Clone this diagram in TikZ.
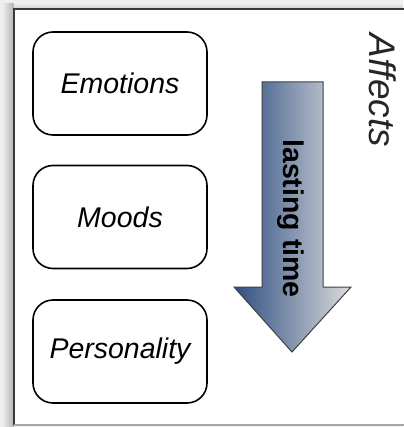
\documentclass[tikz,border=0pt]{standalone}
\usepackage{fontspec}
\setmainfont{Liberation Sans}
\definecolor{paper}{HTML}{EFEFEF}
\definecolor{frameline}{HTML}{3A3A3A}
\definecolor{arrowdark}{HTML}{2E4F82}
\definecolor{arrowlight}{HTML}{DCDCDC}
\begin{document}
\begin{tikzpicture}[x=1pt,y=-1pt,
  affect/.style={draw=black, line width=1.6pt, rounded corners=20pt,
    minimum width=174pt, minimum height=103pt, inner sep=0pt,
    font=\fontsize{28.5}{32}\selectfont\itshape},
  sidelabel/.style={rotate=-90, inner sep=0pt}
]
\useasboundingbox (0,0) rectangle (403,427);
% page background and the soft shadow along the frame's left edge
\fill[paper] (0,0) rectangle (403,427);
\shade[left color=paper, right color=gray!60] (2,4) rectangle (14,427);
\shade[top color=paper, bottom color=gray!35] (14,3) rectangle (403,9);
% white frame
\fill[white] (14,9) rectangle (410,425);
\draw[frameline, line width=1.6pt] (14,425) -- (14,9) -- (410,9);
\draw[gray!70, line width=1.2pt] (14,425) -- (410,425);

% the three kinds of affect
\node[affect] (emo)  at (120,83.5)  {Emotions};
\node[affect] (mood) at (120,217)   {Moods};
\node[affect] (pers) at (120,351.5) {Personality};

% downward arrow for lasting time
\shade[left color=arrowdark, right color=arrowlight, draw=black!75, line width=1pt]
  (262,82) -- (323,82) -- (323,287) -- (351,287) -- (292,352)
  -- (234,287) -- (262,287) -- cycle;
\node[sidelabel, font=\fontsize{28.5}{32}\selectfont\bfseries] (time) at (291,218.5) {lasting time};

% group label
\node[sidelabel, font=\fontsize{37}{42}\selectfont\itshape, text=black!85] (aff) at (383,90.5) {Affects};
\end{tikzpicture}
\end{document}
